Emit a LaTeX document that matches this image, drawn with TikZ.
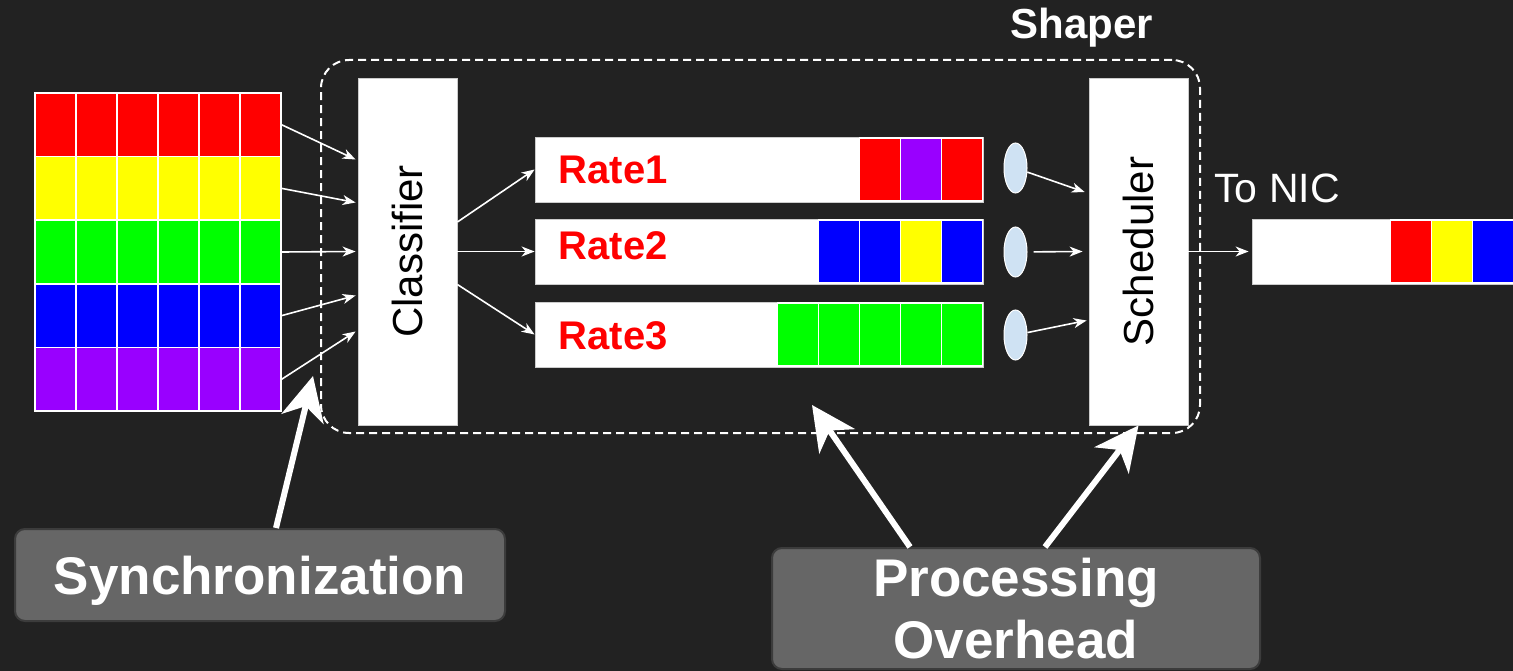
\documentclass[tikz,border=0pt]{standalone}
\usepackage{fontspec}
\setmainfont{Liberation Sans}
\usepackage{tikz}
\usepackage{graphicx}
\usetikzlibrary{arrows.meta, shapes.geometric, positioning}

\definecolor{bgdark}{HTML}{222222}
\definecolor{pkred}{HTML}{FF0000}
\definecolor{pkyellow}{HTML}{FFFF00}
\definecolor{pkgreen}{HTML}{00FF00}
\definecolor{pkblue}{HTML}{0000FF}
\definecolor{pkpurple}{HTML}{9900FF}
\definecolor{tokenblue}{HTML}{CFE2F3}
\definecolor{notegray}{HTML}{666666}
\definecolor{noteedge}{HTML}{3C3C3C}

\tikzset{
  cell/.style={draw=white, line width=1.5pt, minimum width=41pt, minimum height=63.6pt, inner sep=0pt},
  qcell/.style={draw=white, line width=1.5pt, minimum width=41pt, minimum height=63pt, inner sep=0pt, anchor=east},
  block/.style={fill=white, draw=white!80!black, line width=0.8pt, minimum width=99pt, minimum height=347pt, inner sep=0pt, font=\fontsize{42}{50}\selectfont},
  queue/.style={fill=white, draw=white!80!black, line width=0.8pt, minimum width=448pt, minimum height=65pt, inner sep=0pt},
  token/.style={ellipse, fill=tokenblue, draw=white, line width=1pt, minimum width=23pt, minimum height=50pt, inner sep=0pt},
  lbl/.style={text=white, inner sep=0pt, font=\fontsize{41}{50}\selectfont},
  ratelbl/.style={text=pkred, inner sep=0pt, anchor=base west, font=\bfseries\fontsize{40}{48}\selectfont},
  flow/.style={draw=white, line width=1.6pt, -{Stealth[length=13pt, width=10pt, inset=4pt]}},
  bigarrow/.style={draw=white, line width=6pt, -{Stealth[length=44pt, width=43pt, inset=13pt]}},
  note/.style={rounded corners=10pt, fill=notegray, draw=noteedge, line width=2pt, text=white, align=center, inner sep=0pt, text depth=0pt, font=\bfseries\fontsize{53}{62}\selectfont},
}

\begin{document}
\begin{tikzpicture}[x=1pt, y=-1pt]
  \clip (0,0) rectangle (1513,671);
  \fill[bgdark] (0,0) rectangle (1513,671);

  % Incoming packets: one row per flow
  \foreach \r/\fc in {1/pkred, 2/pkyellow, 3/pkgreen, 4/pkblue, 5/pkpurple}
    \foreach \c in {1,...,6}
      \node[cell, fill=\fc] (g-\r-\c) at ({35+41*(\c-0.5)}, {93+63.6*(\r-0.5)}) {};

  % Shaper boundary
  \node[draw=white, line width=2pt, dash pattern=on 8pt off 5pt, rounded corners=28pt,
        minimum width=879pt, minimum height=373pt] (shaper) at (760.5,246.5) {};
  \node[lbl, anchor=base, font=\bfseries\fontsize{42}{50}\selectfont] (shaperlbl) at (1082,39) {Shaper};

  % Classifier and scheduler
  \node[block] (classifier) at (407.5,251.5) {\rotatebox{90}{Classifier}};
  \node[block] (scheduler) at (1138.5,251.5) {\rotatebox{90}{Scheduler}};

  % Rate queues
  \node[queue] (q1) at (759,169.5) {};
  \node[queue] (q2) at (759,251.5) {};
  \node[queue] (q3) at (759,334.5) {};
  \node[ratelbl] (r1) at ([xshift=24pt, yshift=-14.5pt]q1.west) {Rate1};
  \node[ratelbl] (r2) at ([xshift=24pt, yshift=-8.5pt]q2.west) {Rate2};
  \node[ratelbl] (r3) at ([xshift=24pt, yshift=-14.5pt]q3.west) {Rate3};
  \foreach \k/\fc in {1/pkred, 2/pkpurple, 3/pkred}
    \node[qcell, fill=\fc] (q1-\k) at ([xshift={(1-\k)*41pt}]q1.east) {};
  \foreach \k/\fc in {1/pkblue, 2/pkyellow, 3/pkblue, 4/pkblue}
    \node[qcell, fill=\fc] (q2-\k) at ([xshift={(1-\k)*41pt}]q2.east) {};
  \foreach \k in {1,...,5}
    \node[qcell, fill=pkgreen] (q3-\k) at ([xshift={(1-\k)*41pt}]q3.east) {};

  % Tokens
  \node[token] (e1) at (1015.5,168) {};
  \node[token] (e2) at (1015.5,252) {};
  \node[token] (e3) at (1015.5,335) {};

  % Output queue
  \node[queue, minimum width=262pt] (nic) at (1383,251.5) {};
  \foreach \k/\fc in {1/pkblue, 2/pkyellow, 3/pkred}
    \node[qcell, fill=\fc] (nic-\k) at ([xshift={(1-\k)*41pt}]nic.east) {};
  \node[lbl, anchor=base] (tonic) at (1277,203) {To NIC};

  % Packet flow
  \foreach \r/\dy in {1/92, 2/49, 3/0, 4/-44, 5/-80}
    \draw[flow] (g-\r-6.east) -- ([xshift=-2pt, yshift=\dy pt]classifier.west);
  \draw[flow] ([yshift=29.5pt]classifier.east) -- (q1.west);
  \draw[flow] (classifier.east) -- (q2.west);
  \draw[flow] ([yshift=-33pt]classifier.east) -- (q3.west);
  \draw[flow] (e1) -- ([xshift=-4pt, yshift=59.5pt]scheduler.west);
  \draw[flow, shorten <=6pt] (e2) -- ([xshift=-6pt]scheduler.west);
  \draw[flow] (e3) -- ([xshift=-2pt, yshift=-69pt]scheduler.west);
  \draw[flow, shorten >=3pt] (scheduler.east) -- (nic.west);

  % Overheads
  \node[note, minimum width=490pt, minimum height=92pt] (sync) at (260,575) {Synchronization};
  \node[note, minimum width=488pt, minimum height=121pt] (proc) at (1016,608.5) {Processing\\Overhead};
  \coordinate (synctip) at (313,376);
  \coordinate (queuetip) at (812,405);
  \draw[bigarrow] ([xshift=16pt]sync.north) -- (synctip);
  \draw[bigarrow] ([xshift=-106pt]proc.north) -- (queuetip);
  \draw[bigarrow] ([xshift=29pt]proc.north) -- (scheduler.south);
\end{tikzpicture}
\end{document}
